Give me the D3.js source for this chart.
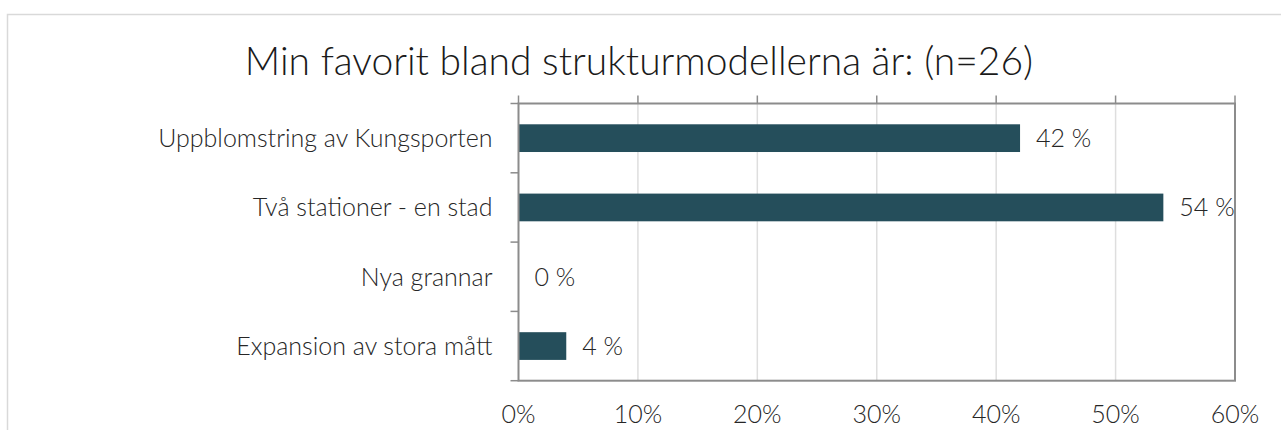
<!DOCTYPE html>
<html><head><meta charset="utf-8">
<script src="https://cdn.jsdelivr.net/npm/d3@7/dist/d3.min.js"></script>
<style>
html,body{margin:0;padding:0;background:#fff;}
svg{display:block;font-family:Lato,"Open Sans",sans-serif;}
</style></head>
<body><svg id="c" width="1281" height="430"></svg>
<script>
const title = "Min favorit bland strukturmodellerna är: (n=26)";
const categories = ["Uppblomstring av Kungsporten","Två stationer - en stad","Nya grannar","Expansion av stora mått"];
const values = [42, 54, 0, 4];
const valueLabels = ["42 %","54 %","0 %","4 %"];
const xTicks = [0,10,20,30,40,50,60];
const xTickLabels = ["0%","10%","20%","30%","40%","50%","60%"];

const svg = d3.select("#c");
const m = {left:518.5, top:103.5, right:1235, bottom:380.7};

// outer chart border
svg.append("rect").attr("x",7.5).attr("y",14.5).attr("width",1290).attr("height",440)
  .attr("fill","none").attr("stroke","#d9d9d9").attr("stroke-width",1.5);

svg.append("text").attr("x",639).attr("y",75).attr("text-anchor","middle")
  .attr("font-size",39).attr("font-weight",300).attr("fill","#1a1a1a").text(title);

const x = d3.scaleLinear().domain([0,60]).range([m.left,m.right]);
const yb = d3.scaleBand().domain(categories).range([m.top,m.bottom]).paddingInner(0.6).paddingOuter(0.3);
const yEdge = d3.scaleLinear().domain([0,categories.length]).range([m.top,m.bottom]);

// gridlines
svg.append("g").selectAll("line").data(xTicks.slice(1,-1)).join("line")
  .attr("x1",d=>x(d)).attr("x2",d=>x(d)).attr("y1",m.top).attr("y2",m.bottom)
  .attr("stroke","#dedede").attr("stroke-width",1.5);

// bars
svg.append("g").selectAll("rect").data(values).join("rect")
  .attr("x",x(0)).attr("y",(d,i)=>yb(categories[i]))
  .attr("width",d=>x(d)-x(0)).attr("height",yb.bandwidth())
  .attr("fill","#254e5b");

// frame
const frame = "#8c8c8c";
svg.append("rect").attr("x",m.left).attr("y",m.top).attr("width",m.right-m.left).attr("height",m.bottom-m.top)
  .attr("fill","none").attr("stroke",frame).attr("stroke-width",2);

// top ticks
svg.append("g").selectAll("line").data(xTicks).join("line")
  .attr("x1",d=>x(d)).attr("x2",d=>x(d)).attr("y1",m.top-8).attr("y2",m.top)
  .attr("stroke",frame).attr("stroke-width",1.5);
// left ticks at category boundaries
svg.append("g").selectAll("line").data(d3.range(categories.length+1)).join("line")
  .attr("x1",m.left-8).attr("x2",m.left).attr("y1",d=>yEdge(d)).attr("y2",d=>yEdge(d))
  .attr("stroke",frame).attr("stroke-width",1.5);

// category labels
svg.append("g").selectAll("text").data(categories).join("text")
  .attr("x",m.left-26).attr("y",d=>yb(d)+yb.bandwidth()/2).attr("dy","0.35em")
  .attr("text-anchor","end").attr("font-size",25).attr("font-weight",300).attr("fill","#262626")
  .text(d=>d);

// value labels
svg.append("g").selectAll("text").data(values).join("text")
  .attr("x",d=>x(d)+16).attr("y",(d,i)=>yb(categories[i])+yb.bandwidth()/2).attr("dy","0.35em")
  .attr("font-size",25).attr("font-weight",300).attr("fill","#262626")
  .text((d,i)=>valueLabels[i]);

// x tick labels
svg.append("g").selectAll("text").data(xTicks).join("text")
  .attr("x",d=>x(d)).attr("y",423).attr("text-anchor","middle")
  .attr("font-size",25).attr("font-weight",300).attr("fill","#262626")
  .text((d,i)=>xTickLabels[i]);
</script></body></html>
